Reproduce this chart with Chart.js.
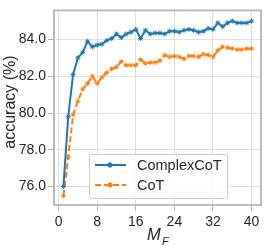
<!DOCTYPE html>
<html>
<head>
<meta charset="utf-8">
<script src="https://cdn.jsdelivr.net/npm/chart.js@4.4.1/dist/chart.umd.min.js"></script>
<style>
  html, body { margin: 0; padding: 0; background: #fff; }
  #wrap { width: 266px; height: 246px; }
</style>
</head>
<body>
<div id="wrap"><canvas id="myChart" width="266" height="246"></canvas></div>
<script>
// values
const steps = [1,2,3,4,5,6,7,8,9,10,11,12,13,14,15,16,17,18,19,20,
               21,22,23,24,25,26,27,28,29,30,31,32,33,34,35,36,37,38,39,40];
const complexCot = [76.0,79.8,82.1,83.0,83.3,83.9,83.6,83.7,83.75,83.95,84.05,84.3,84.1,84.3,84.4,84.55,84.05,84.5,84.3,84.35,
                    84.35,84.3,84.45,84.45,84.4,84.5,84.55,84.5,84.4,84.45,84.6,84.55,84.9,84.7,84.9,85.0,84.9,84.9,84.9,85.0];
const cot = [75.5,77.6,79.9,80.65,81.3,81.6,82.0,81.6,81.95,82.2,82.4,82.5,82.8,82.6,82.6,82.6,82.9,82.7,82.75,82.75,
             82.85,83.15,83.05,83.1,83.05,82.95,83.1,83.1,83.05,83.2,83.15,83.05,83.4,83.6,83.55,83.5,83.45,83.45,83.5,83.5];
const xTicks = [0, 8, 16, 24, 32, 40];
const yTicks = [76, 78, 80, 82, 84];
const seriesNames = ['ComplexCoT', 'CoT'];

const FONT = 'Liberation Sans, Arial, sans-serif';

const frameAndLabels = {
    id: 'frameAndLabels',
    afterDatasetsDraw(chart) {
        const { ctx, chartArea: a } = chart;
        ctx.save();
        // grey frame round the plot
        ctx.strokeStyle = '#b3b3b3';
        ctx.lineWidth = 1.8;
        ctx.strokeRect(a.left, a.top, a.right - a.left, a.bottom - a.top);

        // legend
        const lx = 89, ly = 154, lw = 138, lh = 44;
        ctx.fillStyle = 'rgba(255,255,255,0.85)';
        ctx.strokeStyle = '#cccccc';
        ctx.lineWidth = 1;
        ctx.beginPath();
        ctx.roundRect(lx + 0.5, ly + 0.5, lw, lh, 3);
        ctx.fill();
        ctx.stroke();
        chart.data.datasets.forEach((ds, i) => {
            const y = ly + 11 + i * 20;
            ctx.strokeStyle = ds.borderColor;
            ctx.lineWidth = ds.borderWidth;
            ctx.setLineDash(ds.borderDash || []);
            ctx.beginPath();
            ctx.moveTo(lx + 6, y);
            ctx.lineTo(lx + 37, y);
            ctx.stroke();
            ctx.setLineDash([]);
            Chart.helpers.drawPoint(ctx, { pointStyle: 'star', radius: 2.5, borderWidth: 1 }, lx + 21, y);
            ctx.fillStyle = '#262626';
            ctx.font = '14.5px ' + FONT;
            ctx.textBaseline = 'middle';
            ctx.textAlign = 'left';
            ctx.fillText(ds.label, lx + 48, y + 1);
        });

        // axis titles
        ctx.fillStyle = '#262626';
        ctx.font = '16px ' + FONT;
        ctx.textAlign = 'center';
        ctx.textBaseline = 'middle';
        ctx.save();
        ctx.translate(11, 102);
        ctx.rotate(-Math.PI / 2);
        ctx.fillText('accuracy (%)', 0, 0);
        ctx.restore();

        ctx.font = 'italic 16.5px ' + FONT;
        ctx.textAlign = 'left';
        ctx.textBaseline = 'alphabetic';
        ctx.fillText('M', 147, 240);
        ctx.font = 'italic 11px ' + FONT;
        ctx.fillText('F', 162, 245);
        ctx.restore();
    }
};

const ctx = document.getElementById('myChart').getContext('2d');

const data = {
    labels: steps,
    datasets: [
        {
            label: seriesNames[0],
            data: steps.map((s, i) => ({ x: s, y: complexCot[i] })),
            borderColor: '#1f77b4',
            backgroundColor: '#1f77b4',
            borderWidth: 2,
            pointStyle: 'star',
            pointRadius: 2.5,
            pointBorderWidth: 1,
        },
        {
            label: seriesNames[1],
            data: steps.map((s, i) => ({ x: s, y: cot[i] })),
            borderColor: '#ff7f0e',
            backgroundColor: '#ff7f0e',
            borderWidth: 2,
            borderDash: [6, 3],
            pointStyle: 'star',
            pointRadius: 2.5,
            pointBorderWidth: 1,
        },
    ],
};

const config = {
    type: 'line',
    data: data,
    options: {
        responsive: false,
        animation: false,
        tension: 0,
        layout: { padding: { left: 0, right: 4, top: 3, bottom: 0 } },
        plugins: {
            legend: { display: false },
            tooltip: { enabled: false },
        },
        scales: {
            x: {
                type: 'linear',
                min: -0.95,
                max: 41.95,
                afterBuildTicks: (scale) => { scale.ticks = xTicks.map(v => ({ value: v })) },
                afterFit: (scale) => { scale.height = 41 },
                ticks: {
                    color: '#262626',
                    font: { family: FONT, size: 14 },
                    padding: 3,
                    maxRotation: 0,
                },
                grid: { color: '#e0e0e0', tickColor: '#b3b3b3', tickLength: 6 },
                border: { display: false },
            },
            y: {
                min: 75.0,
                max: 85.58,
                afterBuildTicks: (scale) => { scale.ticks = yTicks.map(v => ({ value: v })) },
                afterFit: (scale) => { scale.width = 54 },
                ticks: {
                    color: '#262626',
                    font: { family: FONT, size: 14 },
                    padding: 2,
                    callback: (v) => v.toFixed(1),
                },
                grid: { color: '#e0e0e0', tickColor: '#b3b3b3', tickLength: 6 },
                border: { display: false },
            },
        },
    },
    plugins: [frameAndLabels],
};

const myChart = new Chart(ctx, config);
</script>
</body>
</html>
